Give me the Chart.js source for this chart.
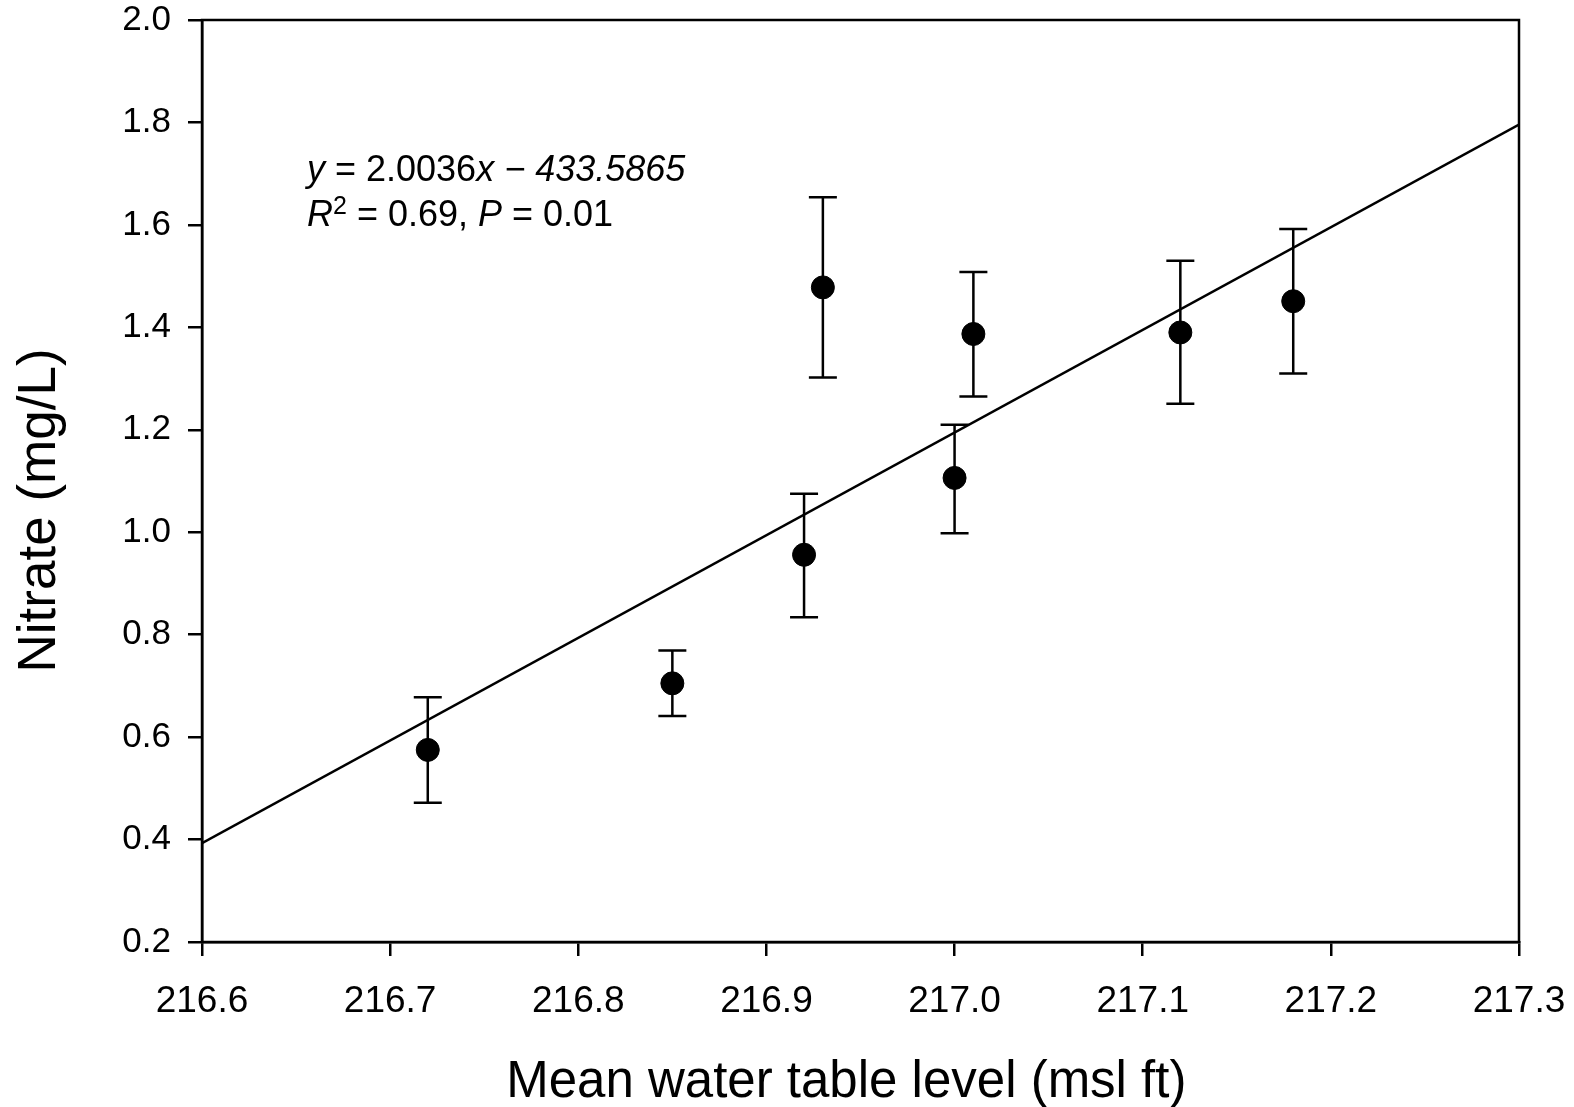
<!DOCTYPE html>
<html>
<head>
<meta charset="utf-8">
<script src="https://cdn.jsdelivr.net/npm/chart.js@4.4.1/dist/chart.umd.min.js"></script>
<style>
  html, body { margin: 0; padding: 0; background: #fff; }
  #wrap { width: 1574px; height: 1107px; }
</style>
</head>
<body>
<div id="wrap"><canvas id="chart" width="1574" height="1107"></canvas></div>
<script>
// data
const waterLevel = [216.72, 216.85, 216.92, 216.93, 217.00, 217.01, 217.12, 217.18];
const nitrate    = [0.575, 0.705, 0.956, 1.478, 1.106, 1.387, 1.390, 1.451];
const errHigh    = [0.678, 0.769, 1.075, 1.654, 1.210, 1.508, 1.530, 1.592];
const errLow     = [0.472, 0.641, 0.834, 1.302, 0.998, 1.265, 1.251, 1.310];

// fitted line y = 2.0036x - 433.5865 at the axis ends
const fitX = [216.6, 217.3];
const fitY = [0.393, 1.796];

const xTicks = [216.6, 216.7, 216.8, 216.9, 217.0, 217.1, 217.2, 217.3];
const yTicks = [0.2, 0.4, 0.6, 0.8, 1.0, 1.2, 1.4, 1.6, 1.8, 2.0];

const FONT = "'Liberation Sans', Arial, sans-serif";

// error bars
const errorBars = {
  id: 'errorBars',
  afterDatasetsDraw(chart) {
    const { ctx, scales: { x, y } } = chart;
    ctx.save();
    ctx.strokeStyle = '#000';
    ctx.lineWidth = 2.5;
    waterLevel.forEach((v, i) => {
      const px = x.getPixelForValue(v);
      const hi = y.getPixelForValue(errHigh[i]);
      const lo = y.getPixelForValue(errLow[i]);
      ctx.beginPath();
      ctx.moveTo(px, hi); ctx.lineTo(px, lo);
      ctx.moveTo(px - 14, hi); ctx.lineTo(px + 14, hi);
      ctx.moveTo(px - 14, lo); ctx.lineTo(px + 14, lo);
      ctx.stroke();
    });
    ctx.restore();
  }
};

// box round the plot + regression text
const frameAndNote = {
  id: 'frameAndNote',
  afterDraw(chart) {
    const { ctx, chartArea: a } = chart;
    ctx.save();
    ctx.strokeStyle = '#000';
    ctx.lineWidth = 2.5;
    ctx.strokeRect(a.left, a.top, a.right - a.left, a.bottom - a.top);

    ctx.fillStyle = '#000';
    ctx.textBaseline = 'alphabetic';
    const size = 36;
    const runs = (parts, x0, y0) => {
      let xx = x0;
      parts.forEach(([txt, style, sz, dy]) => {
        ctx.font = `${style} ${sz || size}px ${FONT}`;
        ctx.fillText(txt, xx, y0 + (dy || 0));
        xx += ctx.measureText(txt).width;
      });
    };
    runs([['y', 'italic'], [' = 2.0036', 'normal'], ['x \u2212 433.5865', 'italic']], 307, 181);
    runs([['R', 'italic'], ['2', 'normal', 25, -12], [' = 0.69, ', 'normal'], ['P', 'italic'], [' = 0.01', 'normal']], 307, 226);
    ctx.restore();
  }
};

new Chart(document.getElementById('chart'), {
  type: 'scatter',
  data: {
    datasets: [
      {
        type: 'line',
        data: fitX.map((v, i) => ({ x: v, y: fitY[i] })),
        borderColor: '#000',
        borderWidth: 2.5,
        pointRadius: 0,
        fill: false
      },
      {
        data: waterLevel.map((v, i) => ({ x: v, y: nitrate[i] })),
        backgroundColor: '#000',
        borderColor: '#000',
        pointRadius: 11.5,
        pointHoverRadius: 11.5
      }
    ]
  },
  options: {
    responsive: false,
    animation: false,
    layout: { padding: { top: 20, right: 55, left: 0, bottom: 0 } },
    plugins: { legend: { display: false }, tooltip: { enabled: false } },
    scales: {
      x: {
        type: 'linear',
        min: 216.6,
        max: 217.3,
        afterBuildTicks: s => { s.ticks = xTicks.map(v => ({ value: v })); },
        afterFit: s => { s.height = 165; s.paddingLeft = 0; s.paddingRight = 0; },
        border: { display: true, color: '#000', width: 2.5 },
        grid: { drawOnChartArea: false, drawTicks: true, tickLength: 14, color: '#000', lineWidth: 2.5 },
        ticks: {
          color: '#000',
          padding: 27,
          maxRotation: 0,
          font: { family: FONT, size: 37, lineHeight: 1 },
          callback: v => Number(v).toFixed(1)
        },
        title: {
          display: true,
          // trailing spaces nudge the centred title a little left, as in the figure
          text: 'Mean water table level (msl ft)  ',
          color: '#000',
          font: { family: FONT, size: 51, lineHeight: 0.94 },
          padding: { top: 0, bottom: 0 }
        }
      },
      y: {
        type: 'linear',
        min: 0.2,
        max: 2.0,
        afterBuildTicks: s => { s.ticks = yTicks.map(v => ({ value: v })); },
        afterFit: s => { s.width = 202; s.paddingTop = 0; s.paddingBottom = 0; },
        border: { display: true, color: '#000', width: 2.5 },
        grid: { drawOnChartArea: false, drawTicks: true, tickLength: 14, color: '#000', lineWidth: 2.5 },
        ticks: {
          color: '#000',
          padding: 17,
          font: { family: FONT, size: 35 },
          callback: v => Number(v).toFixed(1)
        },
        title: {
          display: true,
          text: 'Nitrate (mg/L)    ',
          color: '#000',
          font: { family: FONT, size: 53, lineHeight: 1.2 },
          padding: { top: 9, bottom: 0 }
        }
      }
    }
  },
  plugins: [errorBars, frameAndNote]
});
</script>
</body>
</html>
